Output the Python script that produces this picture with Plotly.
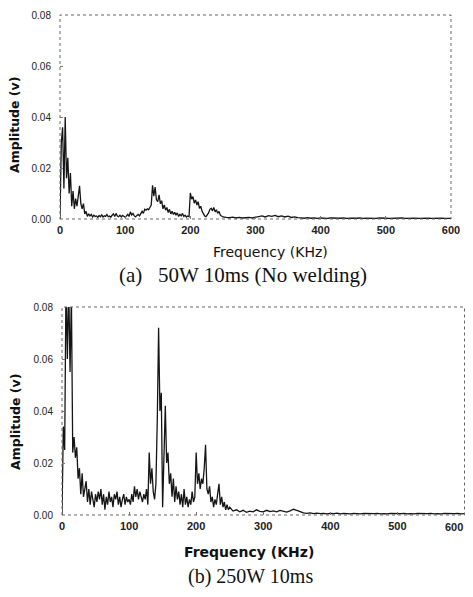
import plotly.graph_objects as go

# ---------------- data ----------------
freq_fine = [0, 2, 4, 6, 8, 10, 12, 14, 16, 18, 20, 22, 24, 26, 28, 30, 32, 34, 36, 38,
             40, 42, 44, 46, 48, 50, 52, 54, 56, 58, 60, 62, 64, 66, 68, 70, 72, 74, 76, 78,
             80, 82, 84, 86, 88, 90, 92, 94, 96, 98, 100, 102, 104, 106, 108, 110, 112, 114, 116, 118,
             120, 122, 124, 126, 128, 130, 132, 134, 136, 138, 140, 142, 144, 146, 148, 150, 152, 154, 156, 158,
             160, 162, 164, 166, 168, 170, 172, 174, 176, 178, 180, 182, 184, 186, 188, 190, 192, 194, 196, 198,
             200, 202, 204, 206, 208, 210, 212, 214, 216, 218, 220, 222, 224, 226, 228, 230, 232, 234, 236, 238,
             240, 242, 244, 246, 248, 250]
freq_coarse = [255, 260, 265, 270, 275, 280, 285, 290, 295, 300, 305, 310, 315, 320, 325, 330, 335, 340, 345, 350,
               355, 360, 365, 370, 375, 380, 385, 390, 395, 400, 405, 410, 415, 420, 425, 430, 435, 440, 445, 450,
               455, 460, 465, 470, 475, 480, 485, 490, 495, 500, 505, 510, 515, 520, 525, 530, 535, 540, 545, 550,
               555, 560, 565, 570, 575, 580, 585, 590, 595, 600]

amp_a_fine = [0.000, 0.030, 0.036, 0.012, 0.040, 0.016, 0.024, 0.010, 0.018, 0.005,
              0.011, 0.004, 0.008, 0.005, 0.009, 0.013, 0.006, 0.004, 0.006, 0.002,
              0.003, 0.001, 0.002, 0.0012, 0.0018, 0.0008, 0.0015, 0.001, 0.0012, 0.0006,
              0.0014, 0.0009, 0.0016, 0.0008, 0.0013, 0.001, 0.0018, 0.0009, 0.0012, 0.0007,
              0.0015, 0.002, 0.001, 0.0022, 0.0012, 0.0009, 0.0015, 0.0008, 0.0014, 0.001,
              0.0007, 0.0012, 0.0018, 0.001, 0.0028, 0.0016, 0.0022, 0.0012, 0.0008, 0.0014,
              0.0018, 0.0012, 0.0024, 0.003, 0.0022, 0.0038, 0.0035, 0.004, 0.0036, 0.0048,
              0.0055, 0.0132, 0.009, 0.0125, 0.0075, 0.0068, 0.0095, 0.006, 0.0072, 0.004,
              0.0055, 0.0035, 0.0045, 0.0025, 0.0038, 0.002, 0.003, 0.0018, 0.0026, 0.0015,
              0.0024, 0.001, 0.0018, 0.0012, 0.0022, 0.001, 0.0015, 0.0008, 0.0012, 0.0009,
              0.0102, 0.0078, 0.0088, 0.0062, 0.0075, 0.0055, 0.0068, 0.0042, 0.005, 0.003,
              0.0018, 0.0012, 0.0009, 0.0015, 0.0024, 0.0038, 0.0042, 0.0032, 0.0045, 0.0028,
              0.0036, 0.0022, 0.003, 0.0015, 0.0012, 0.0008]
amp_a_coarse = [0.0006, 0.0005, 0.0007, 0.0004, 0.0006, 0.0004, 0.0005, 0.0006, 0.0004, 0.0007,
                0.0009, 0.0012, 0.0008, 0.0013, 0.001, 0.0014, 0.0009, 0.0012, 0.0008, 0.0011,
                0.0006, 0.0008, 0.0005, 0.0004, 0.0003, 0.0005, 0.0003, 0.0004, 0.0002, 0.0004,
                0.0003, 0.0002, 0.0004, 0.0003, 0.0002, 0.0003, 0.0004, 0.0002, 0.0003, 0.0002,
                0.0003, 0.0004, 0.0002, 0.0003, 0.0002, 0.0003, 0.0002, 0.0004, 0.0002, 0.0003,
                0.0002, 0.0003, 0.0002, 0.0003, 0.0004, 0.0002, 0.0003, 0.0002, 0.0003, 0.0002,
                0.0003, 0.0002, 0.0003, 0.0002, 0.0003, 0.0002, 0.0003, 0.0002, 0.0003, 0.0002]

amp_b_fine = [0.000, 0.034, 0.025, 0.090, 0.060, 0.088, 0.055, 0.085, 0.024, 0.030,
              0.022, 0.026, 0.014, 0.018, 0.008, 0.016, 0.007, 0.011, 0.013, 0.005,
              0.010, 0.004, 0.009, 0.006, 0.003, 0.008, 0.005, 0.009, 0.006, 0.010,
              0.004, 0.008, 0.002, 0.007, 0.004, 0.009, 0.005, 0.007, 0.003, 0.008,
              0.006, 0.009, 0.004, 0.007, 0.003, 0.006, 0.008, 0.004, 0.007, 0.005,
              0.006, 0.004, 0.008, 0.005, 0.011, 0.007, 0.010, 0.006, 0.009, 0.007,
              0.005, 0.008, 0.006, 0.010, 0.004, 0.024, 0.012, 0.018, 0.009, 0.006,
              0.012, 0.036, 0.072, 0.040, 0.047, 0.003, 0.030, 0.042, 0.020, 0.024,
              0.012, 0.016, 0.007, 0.014, 0.005, 0.011, 0.006, 0.009, 0.004, 0.008,
              0.003, 0.010, 0.004, 0.007, 0.003, 0.006, 0.004, 0.009, 0.005, 0.007,
              0.024, 0.012, 0.016, 0.010, 0.014, 0.012, 0.018, 0.027, 0.010, 0.008,
              0.011, 0.005, 0.007, 0.003, 0.006, 0.004, 0.008, 0.012, 0.004, 0.007,
              0.003, 0.005, 0.002, 0.004, 0.002, 0.003]
amp_b_coarse = [0.0015, 0.002, 0.0012, 0.0018, 0.001, 0.0015, 0.0012, 0.002, 0.0014, 0.0012,
                0.0018, 0.0013, 0.0016, 0.0012, 0.0018, 0.0015, 0.0011, 0.0016, 0.0022, 0.0018,
                0.0012, 0.0008, 0.0006, 0.0008, 0.0005, 0.0007, 0.0005, 0.0006, 0.0004, 0.0006,
                0.0005, 0.0007, 0.0004, 0.0006, 0.0005, 0.0004, 0.0006, 0.0005, 0.0004, 0.0006,
                0.0005, 0.0004, 0.0005, 0.0006, 0.0004, 0.0005, 0.0004, 0.0006, 0.0005, 0.0004,
                0.0005, 0.0006, 0.0004, 0.0005, 0.0004, 0.0006, 0.0005, 0.0004, 0.0005, 0.0006,
                0.0004, 0.0005, 0.0004, 0.0006, 0.0005, 0.0004, 0.0005, 0.0006, 0.0004, 0.0005]

x_ticks = [0, 100, 200, 300, 400, 500, 600]
y_ticks = [0.00, 0.02, 0.04, 0.06, 0.08]
y_tick_labels = ["0.00", "0.02", "0.04", "0.06", "0.08"]

caption_a = "(a)   50W 10ms (No welding)"
caption_b = "(b) 250W 10ms"
x_title = "Frequency (KHz)"
y_title = "Amplitude (v)"

# ---------------- figure ----------------
PAGE_W, PAGE_H = 473, 597
OFF = 8  # default page body margin
W, H = PAGE_W - 2 * OFF, PAGE_H - 2 * OFF  # figure fits the window without scrolling


def px(x):
    return (x - OFF) / W


def py(y):
    return 1 - (y - OFF) / H


fig = go.Figure()
fig.add_trace(go.Scatter(x=freq_fine + freq_coarse, y=amp_a_fine + amp_a_coarse,
                         mode="lines", line=dict(color="#151515", width=1.3),
                         xaxis="x", yaxis="y", showlegend=False))
fig.add_trace(go.Scatter(x=freq_fine + freq_coarse, y=amp_b_fine + amp_b_coarse,
                         mode="lines", line=dict(color="#151515", width=1.3),
                         xaxis="x2", yaxis="y2", showlegend=False))

dom_a_x = [px(60), px(451)]
dom_a_y = [py(219), py(15)]
dom_b_x = [px(62), px(464.5)]
dom_b_y = [py(515), py(307)]

y_tick_font = dict(family="Liberation Sans, Arial", size=10, color="#222")
x_tick_font = dict(family="Liberation Sans, Arial", size=11, color="#222")


def xax(domain, anchor, hide_last=False):
    texts = [f"<b>{t}</b>" for t in x_ticks]
    if hide_last:
        texts[-1] = ""
    return dict(domain=domain, anchor=anchor, range=[0, 600], tickvals=x_ticks,
                ticktext=texts,
                ticks="inside", ticklen=3, tickcolor="#777", showgrid=False, zeroline=False,
                showline=False, tickfont=x_tick_font, mirror=True, automargin=False,
                ticklabeloverflow="allow", ticklabelstandoff=3)


def yax(domain, anchor):
    return dict(domain=domain, anchor=anchor, range=[0, 0.08], tickvals=y_ticks,
                ticktext=y_tick_labels, ticks="inside", ticklen=3, tickcolor="#777",
                showgrid=False, zeroline=False, showline=False, tickfont=y_tick_font,
                mirror=True, ticklabelstandoff=8, automargin=False, ticklabeloverflow="allow")


fig.update_layout(
    width=W, height=H, margin=dict(l=0, r=0, t=0, b=0, autoexpand=False),
    paper_bgcolor="white", plot_bgcolor="white",
    xaxis=xax(dom_a_x, "y"),
    yaxis=yax(dom_a_y, "x"),
    xaxis2=xax(dom_b_x, "y2", hide_last=True),
    yaxis2=yax(dom_b_y, "x2"),
)

# the last tick label of the lower axis sits flush with the page edge
fig.add_annotation(text=f"<b>{x_ticks[-1]}</b>", x=1, xref="paper", y=0, yref="y2",
                   xanchor="right", yanchor="top", yshift=-4, showarrow=False, font=x_tick_font)

# dotted frames
for xr, yr in [("x", "y"), ("x2", "y2")]:
    fig.add_shape(type="rect", xref=f"{xr} domain", yref=f"{yr} domain", x0=0, x1=1, y0=0, y1=1,
                  line=dict(color="#666", width=1, dash="dot"), layer="above")

title_font = dict(family="DejaVu Sans", size=14, color="#111")
ytitle_font = dict(family="DejaVu Sans", size=12.5, color="#111")
serif = dict(family="Liberation Serif, Times New Roman", size=21, color="#111")
serif_b = dict(family="Liberation Serif, Times New Roman", size=20, color="#111")
fig.add_annotation(text=x_title, x=px(270), y=py(252), xref="paper", yref="paper",
                   showarrow=False, font=title_font, xanchor="center", yanchor="middle")
fig.add_annotation(text=f"<b>{x_title}</b>", x=px(249), y=py(552), xref="paper", yref="paper",
                   showarrow=False, font=title_font, xanchor="center", yanchor="middle")
fig.add_annotation(text=f"<b>{y_title}</b>", x=px(15), y=py(125), xref="paper", yref="paper",
                   showarrow=False, font=ytitle_font, textangle=-90, xanchor="center", yanchor="middle")
fig.add_annotation(text=f"<b>{y_title}</b>", x=px(15), y=py(422), xref="paper", yref="paper",
                   showarrow=False, font=ytitle_font, textangle=-90, xanchor="center", yanchor="middle")
fig.add_annotation(text=caption_a.replace("   ", "&nbsp;&nbsp;&nbsp;"), x=px(243), y=py(275),
                   xref="paper", yref="paper", showarrow=False, font=serif,
                   xanchor="center", yanchor="middle")
fig.add_annotation(text=caption_b, x=px(251), y=0, xref="paper", yref="paper",
                   showarrow=False, font=serif_b, xanchor="center", yanchor="bottom",
                   borderpad=0)

fig.write_html("out.html")
